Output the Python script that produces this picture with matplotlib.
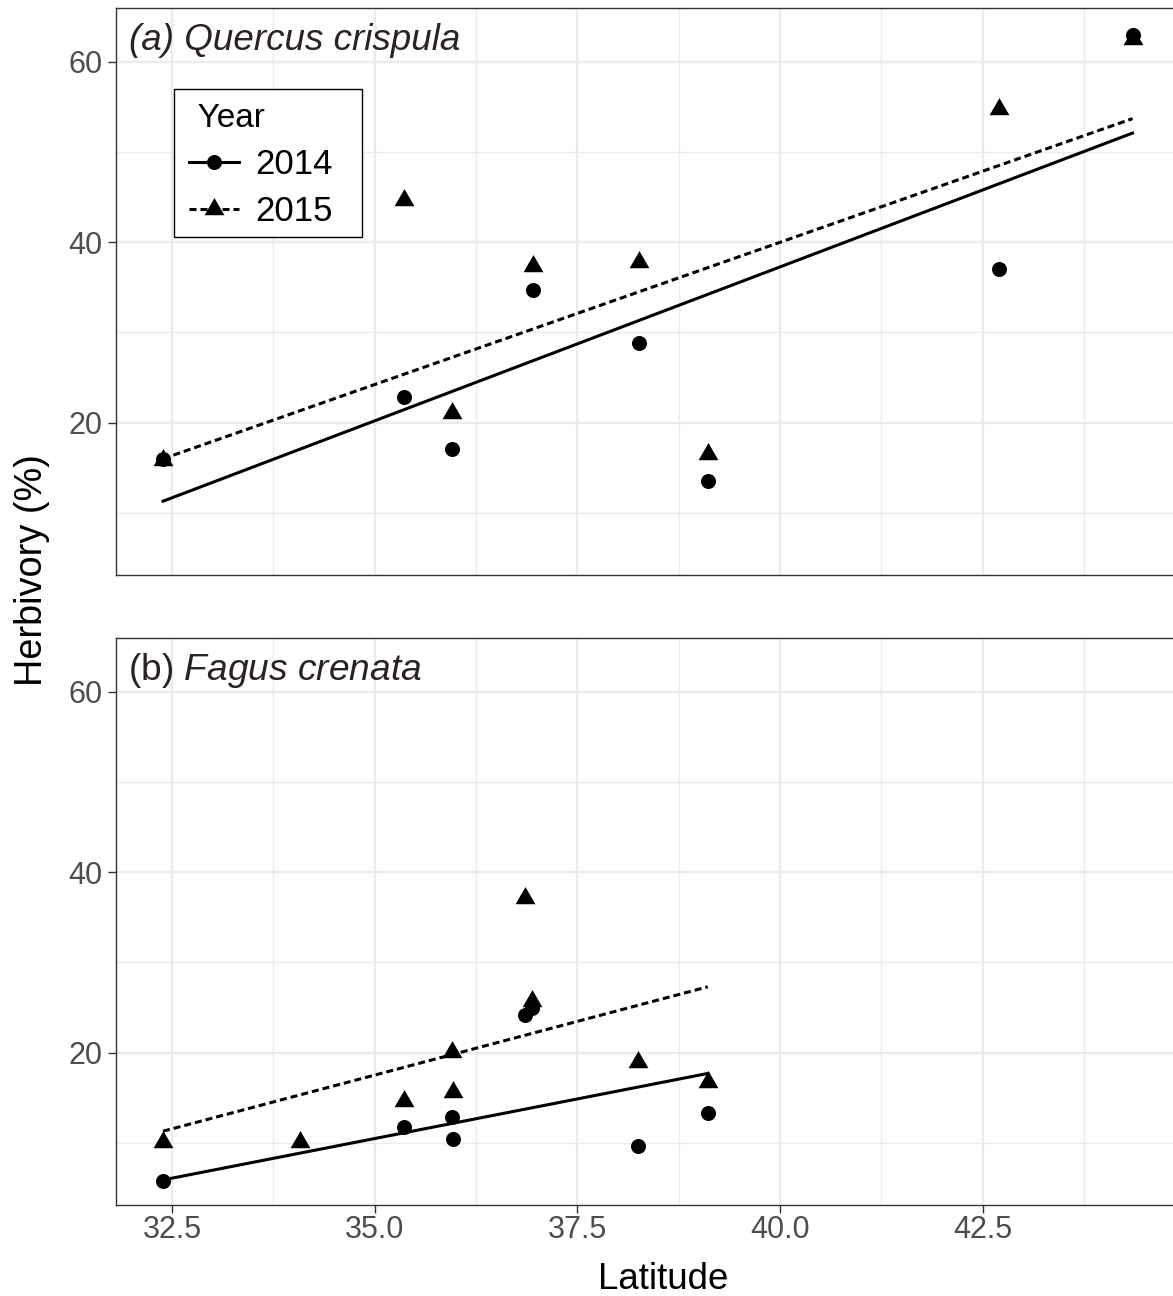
#%% imports
import numpy as np
import matplotlib
matplotlib.use('Agg')
import matplotlib.pyplot as plt
from matplotlib.lines import Line2D
from matplotlib.path import Path
from matplotlib.patches import Rectangle

#%% data
# (a) Quercus crispula
qc_lat = [32.39, 35.36, 35.95, 36.95, 38.26, 39.11, 42.70, 44.35]
qc_herb_2014 = [16.0, 22.9, 17.1, 34.7, 28.8, 13.5, 37.0, 63.0]
qc_herb_2015 = [15.9, 44.7, 21.1, 37.4, 37.8, 16.5, 54.8, 62.5]
# fitted lines (end points)
qc_fit_lat = [32.39, 44.35]
qc_fit_2014 = [11.3, 52.1]
qc_fit_2015 = [16.0, 53.7]

# (b) Fagus crenata
fc_lat_2014 = [32.39, 35.36, 35.95, 35.97, 36.85, 36.94, 38.25, 39.11]
fc_herb_2014 = [5.8, 11.8, 12.9, 10.4, 24.2, 25.0, 9.7, 13.3]
fc_lat_2015 = [32.39, 34.08, 35.36, 35.95, 35.97, 36.85, 36.94, 38.25, 39.11]
fc_herb_2015 = [10.1, 10.1, 14.7, 20.1, 15.6, 37.1, 25.7, 19.0, 16.7]
fc_fit_lat = [32.39, 39.11]
fc_fit_2014 = [5.9, 17.7]
fc_fit_2015 = [11.3, 27.3]

x_ticks = [32.5, 35.0, 37.5, 40.0, 42.5]
x_minor = [33.75, 36.25, 38.75, 41.25, 43.75]
y_ticks = [20, 40, 60]
y_minor = [10, 30, 50]

#%% style
plt.rcParams['font.family'] = ['Liberation Sans', 'DejaVu Sans']
plt.rcParams['mathtext.fontset'] = 'custom'
plt.rcParams['mathtext.rm'] = 'Liberation Sans'
plt.rcParams['mathtext.it'] = 'Liberation Sans:italic'

W, H = 1173, 1296
grid_col = '#EBEBEB'
border_col = '#333333'
label_col = '#2B2222'

# ggplot-like filled triangle, centred on its centroid
tri = Path([(0, 1.0), (-0.866, -0.5), (0.866, -0.5), (0, 1.0)],
           [Path.MOVETO, Path.LINETO, Path.LINETO, Path.CLOSEPOLY])
ms_circ = 10.8
ms_tri = 16.5
lw_fit = 2.2
dash = (0, (2.3, 1.3))

fig = plt.figure(figsize=(W / 100, H / 100), dpi=100)
ax1 = fig.add_axes([116 / W, 1 - 575 / H, 1066 / W, 567 / H])
ax2 = fig.add_axes([116 / W, 1 - 1205 / H, 1066 / W, 567 / H])


def style_axis(ax, show_x):
    ax.set_xlim(31.81, 44.96)
    ax.set_ylim(3.12, 65.96)
    ax.set_xticks(x_ticks)
    ax.set_xticks(x_minor, minor=True)
    ax.set_yticks(y_ticks)
    ax.set_yticks(y_minor, minor=True)
    ax.grid(True, which='major', color=grid_col, lw=1.7, zorder=0)
    ax.grid(True, which='minor', color=grid_col, lw=1.0, zorder=0)
    ax.set_axisbelow(True)
    for sp in ax.spines.values():
        sp.set_color(border_col)
        sp.set_linewidth(1.0)
    ax.tick_params(which='minor', length=0)
    ax.tick_params(axis='y', which='major', length=6, width=1.0, color=border_col,
                   labelsize=22, labelcolor='#4D4D4D', pad=3.6)
    if show_x:
        ax.tick_params(axis='x', which='major', length=6, width=1.0, color=border_col,
                       labelsize=22, labelcolor='#4D4D4D', pad=1.0)
        ax.set_xticklabels([f'{v:.1f}' for v in x_ticks])
    else:
        ax.tick_params(axis='x', which='major', length=0, labelbottom=False)


#%% panel (a)
style_axis(ax1, False)
ax1.plot(qc_fit_lat, qc_fit_2014, color='black', lw=lw_fit, ls='-', zorder=2)
ax1.plot(qc_fit_lat, qc_fit_2015, color='black', lw=lw_fit, ls=dash, zorder=2)
ax1.plot(qc_lat, qc_herb_2015, ls='none', marker=tri, ms=ms_tri, color='black', mew=0, zorder=3)
ax1.plot(qc_lat, qc_herb_2014, ls='none', marker='o', ms=ms_circ, color='black', mew=0, zorder=4)
ax1.text(0.012, 0.926, '(a) Quercus crispula', transform=ax1.transAxes, fontsize=26.5,
         fontstyle='italic', color=label_col, ha='left', va='baseline')

# legend: frame drawn separately so it can be sized like the ggplot key box
legend_box = Rectangle((174 / W, 1 - 237 / H), 188 / W, 148 / H, transform=fig.transFigure,
                       facecolor='white', edgecolor='black', lw=1.0, zorder=4.5, clip_on=False)
ax1.add_patch(legend_box)
handles = [Line2D([], [], color='black', lw=lw_fit, ls='-', marker='o', ms=ms_circ, mew=0),
           Line2D([], [], color='black', lw=lw_fit, ls=dash, marker=tri, ms=ms_tri, mew=0)]
leg = ax1.legend(handles, ['2014', '2015'], title=' Year', loc='upper left',
                 bbox_to_anchor=(189 / W, 1 - 103 / H), bbox_transform=fig.transFigure,
                 borderaxespad=0, borderpad=0, fontsize=25, title_fontsize=24,
                 alignment='left', handlelength=1.45, handletextpad=0.45,
                 labelspacing=0.41, frameon=False)
leg.set_zorder(5)

#%% panel (b)
style_axis(ax2, True)
ax2.plot(fc_fit_lat, fc_fit_2014, color='black', lw=lw_fit, ls='-', zorder=2)
ax2.plot(fc_fit_lat, fc_fit_2015, color='black', lw=lw_fit, ls=dash, zorder=2)
ax2.plot(fc_lat_2015, fc_herb_2015, ls='none', marker=tri, ms=ms_tri, color='black', mew=0, zorder=3)
ax2.plot(fc_lat_2014, fc_herb_2014, ls='none', marker='o', ms=ms_circ, color='black', mew=0, zorder=4)
ax2.text(0.011, 0.926, r'(b) $\it{Fagus\ crenata}$', transform=ax2.transAxes, fontsize=26.7,
         color=label_col, ha='left', va='baseline')

#%% axis titles
fig.text(663 / W, 1 - 1289 / H, 'Latitude', fontsize=26.5, color='black',
         ha='center', va='baseline')
fig.text(42 / W, 1 - 570 / H, 'Herbivory (%)', fontsize=27.3, color='black',
         rotation=90, rotation_mode='anchor', ha='center', va='baseline')

plt.savefig('out.png', dpi=100)
